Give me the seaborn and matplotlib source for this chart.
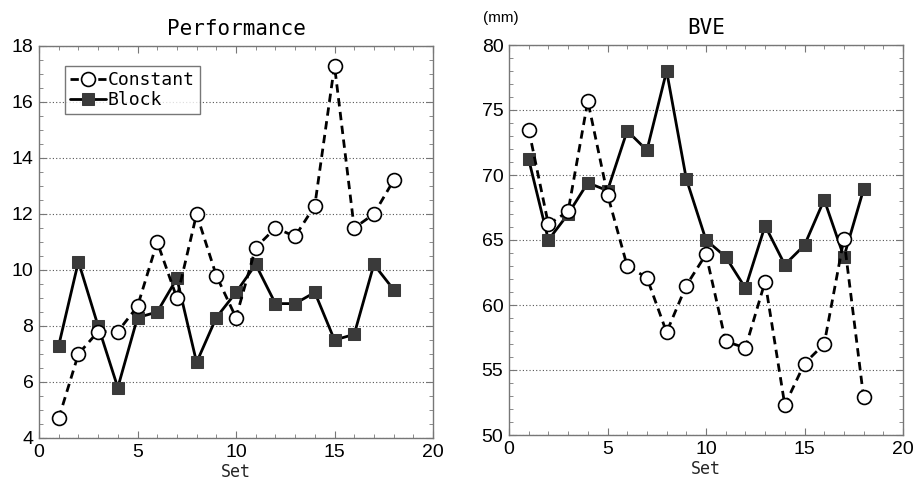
import numpy as np
import pandas as pd
import matplotlib.pyplot as plt
import seaborn as sns
from matplotlib.ticker import MultipleLocator

sets = list(range(1, 19))

perf_constant = [4.7, 7.0, 7.8, 7.8, 8.7, 11.0, 9.0, 12.0, 9.8, 8.3,
                 10.8, 11.5, 11.2, 12.3, 17.3, 11.5, 12.0, 13.2]
perf_block = [7.3, 10.3, 8.0, 5.8, 8.3, 8.5, 9.7, 6.7, 8.3, 9.2,
              10.2, 8.8, 8.8, 9.2, 7.5, 7.7, 10.2, 9.3]

bve_constant = [73.5, 66.2, 67.2, 75.7, 68.5, 63.0, 62.1, 57.9, 61.5, 63.9,
                57.2, 56.7, 61.8, 52.3, 55.5, 57.0, 65.1, 52.9]
bve_block = [71.2, 65.0, 67.0, 69.4, 68.8, 73.4, 71.9, 78.0, 69.7, 65.0,
             63.7, 61.3, 66.1, 63.1, 64.6, 68.1, 63.7, 68.9]

sns.set_style("ticks")
plt.rcParams["font.family"] = ["DejaVu Sans Mono", "DejaVu Sans"]
plt.rcParams["text.color"] = "black"
plt.rcParams["xtick.labelcolor"] = "black"
plt.rcParams["ytick.labelcolor"] = "black"

DARK = "#3a3a3a"
TICKFONT = "Liberation Sans"
fig = plt.figure(figsize=(9.14, 4.88), dpi=100)
ax1 = fig.add_axes([39 / 914, 1 - 438 / 488, 394 / 914, 392 / 488])
ax2 = fig.add_axes([509 / 914, 1 - 435 / 488, 394 / 914, 390 / 488])


def draw(ax, constant, block):
    df = pd.DataFrame({"Set": sets, "Constant": constant, "Block": block})
    sns.lineplot(data=df, x="Set", y="Constant", ax=ax, color="black",
                 linestyle=(0, (3, 2)), linewidth=2, marker="o", markersize=10,
                 markerfacecolor="white", markeredgecolor="black",
                 markeredgewidth=1.2, label="Constant", zorder=3)
    sns.lineplot(data=df, x="Set", y="Block", ax=ax, color="black",
                 linewidth=2, marker="s", markersize=9,
                 markerfacecolor=DARK, markeredgecolor=DARK,
                 label="Block", zorder=2)
    ax.set_xlim(0, 20)
    ax.xaxis.set_major_locator(MultipleLocator(5))
    ax.xaxis.set_minor_locator(MultipleLocator(1))
    ax.grid(axis="y", which="major", linestyle=(0, (1, 2)), color="#555555",
            linewidth=0.8)
    ax.tick_params(which="both", direction="in", top=True, right=True,
                   color="#777777", labelsize=14, pad=4)
    ax.tick_params(which="major", length=5)
    ax.tick_params(which="minor", length=3)
    for sp in ax.spines.values():
        sp.set_color("#777777")
        sp.set_linewidth(1)
    ax.set_xlabel("Set", fontsize=12, labelpad=2)
    ax.set_ylabel("")


draw(ax1, perf_constant, perf_block)
ax1.set_ylim(4, 18)
ax1.yaxis.set_major_locator(MultipleLocator(2))
ax1.yaxis.set_minor_locator(MultipleLocator(0.5))
ax1.set_title("Performance", fontsize=15, pad=8)
leg = ax1.legend(loc="upper left", bbox_to_anchor=(0.065, 0.95), fontsize=13,
                 frameon=True, fancybox=False, edgecolor="#555555",
                 handlelength=2.0, handletextpad=0.1, borderpad=0.3,
                 labelspacing=0.1, borderaxespad=0)
leg.get_frame().set_linewidth(1)

draw(ax2, bve_constant, bve_block)
ax2.set_ylim(50, 80)
ax2.yaxis.set_major_locator(MultipleLocator(5))
ax2.yaxis.set_minor_locator(MultipleLocator(1))
ax2.set_title("BVE", fontsize=15, pad=8)
ax2.get_legend().remove()
fig.text(483 / 914, 1 - 18 / 488, "(mm)", fontsize=11, ha="left", va="center",
         family=TICKFONT)

for ax in (ax1, ax2):
    for lbl in ax.get_xticklabels() + ax.get_yticklabels():
        lbl.set_family(TICKFONT)

fig.savefig("out.png", dpi=100)
